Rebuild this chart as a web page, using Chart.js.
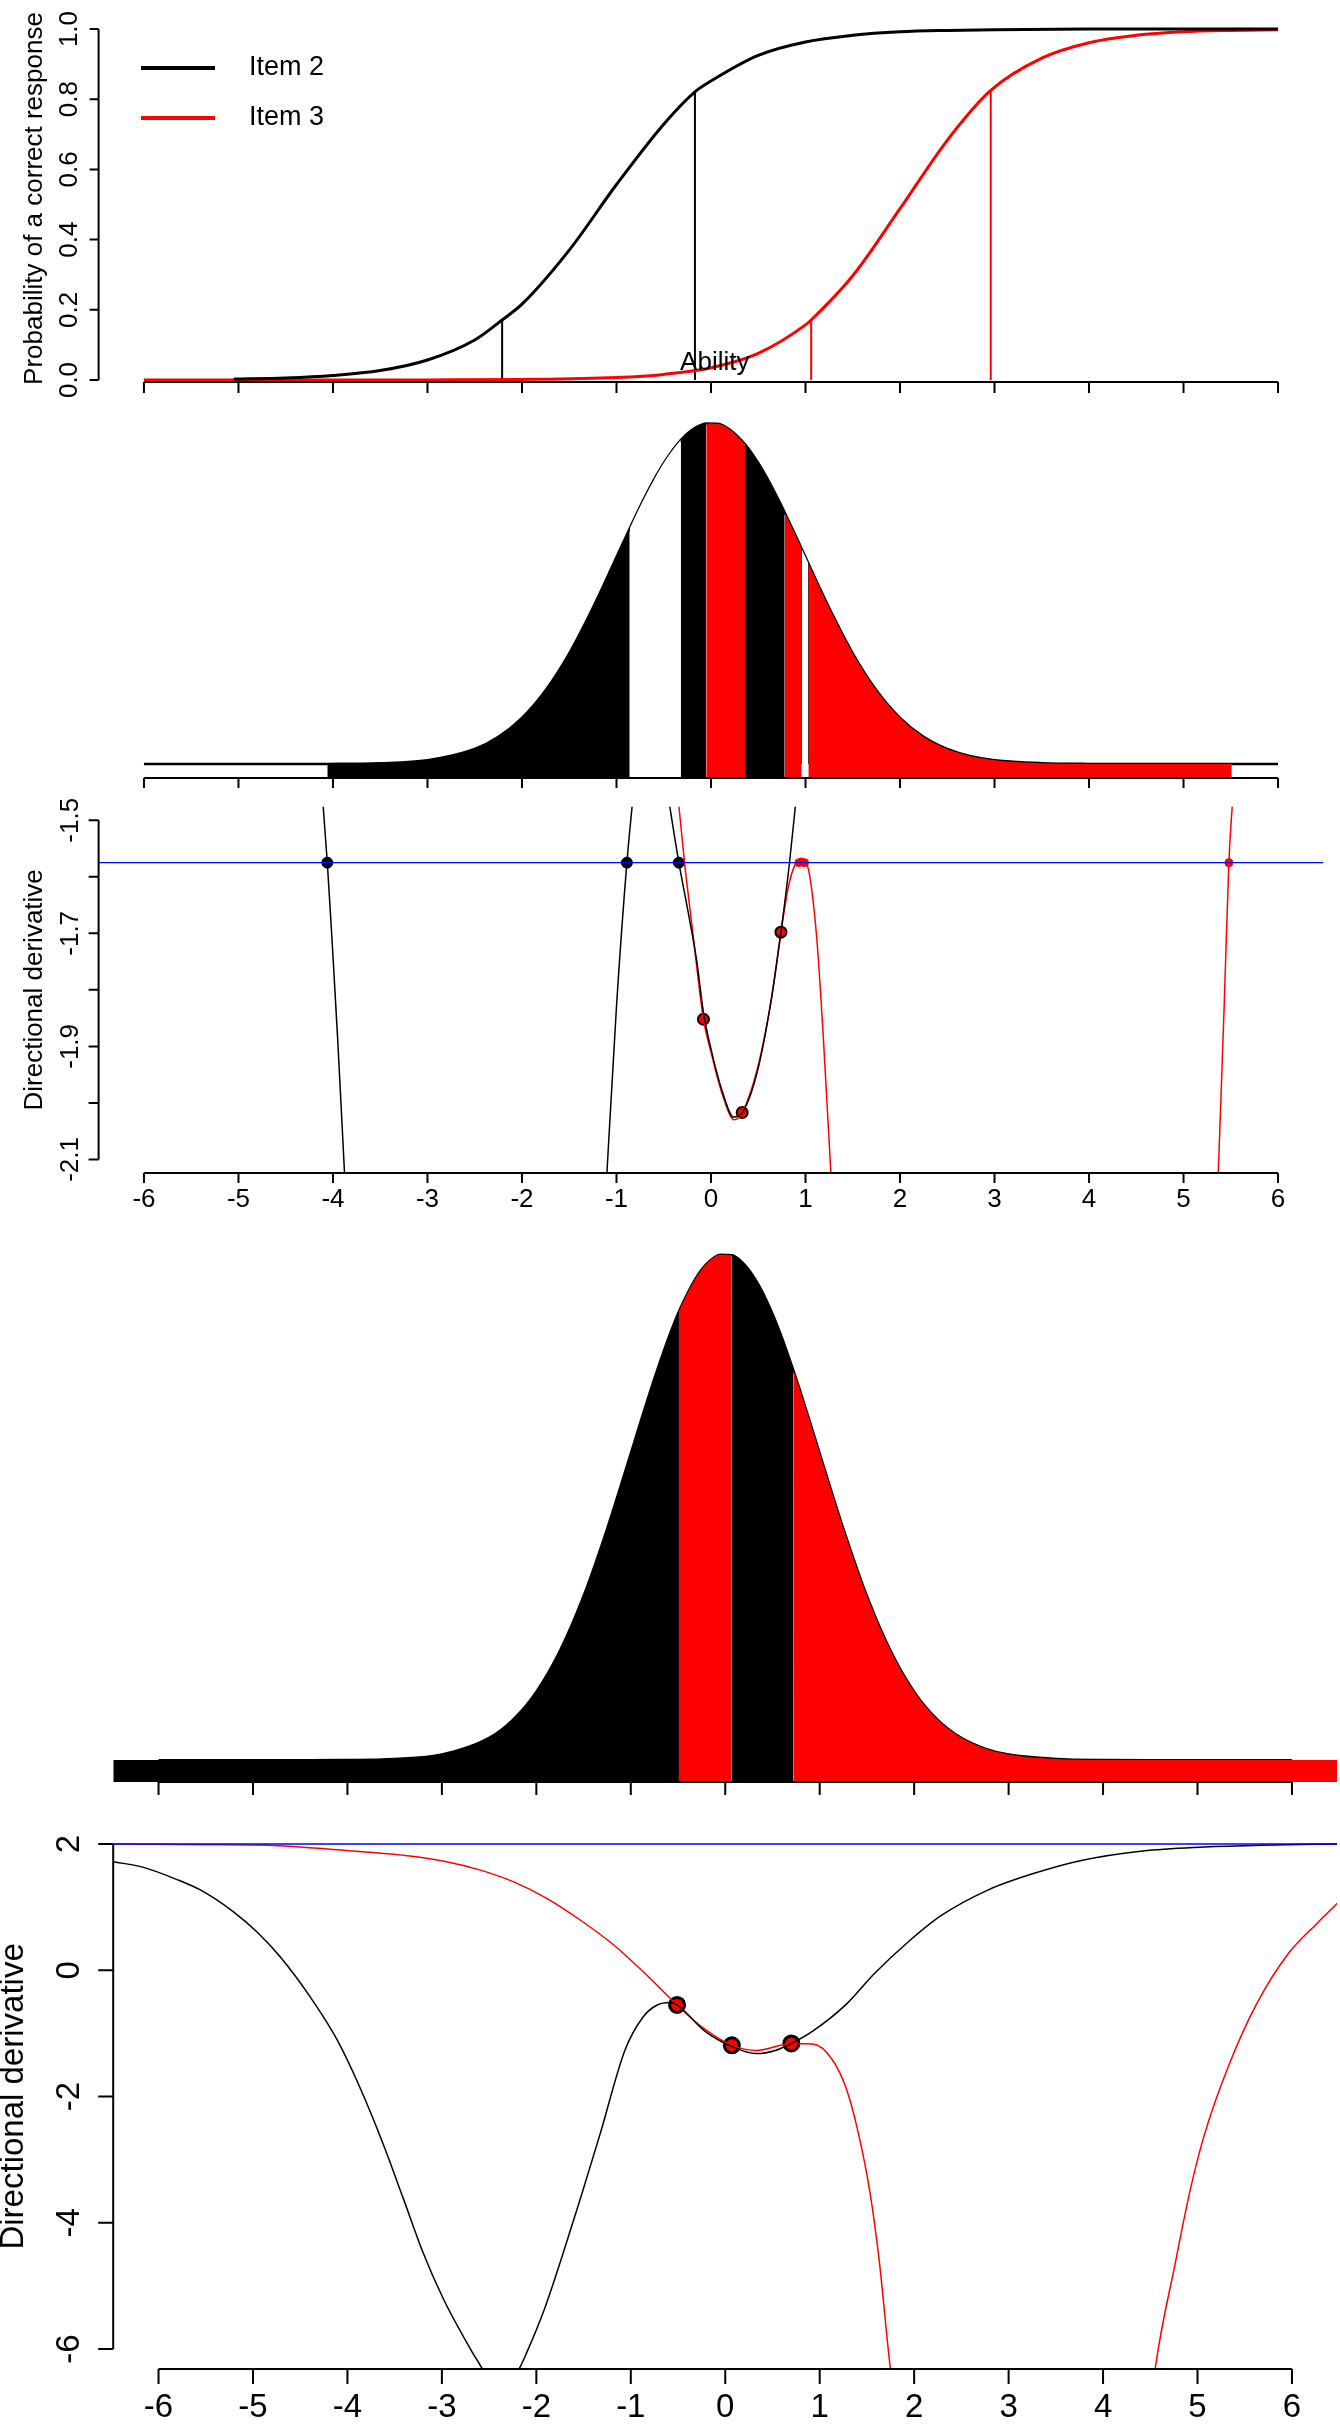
<!DOCTYPE html>
<html>
<head>
<meta charset="utf-8">
<title>Directional derivative</title>
<script src="https://cdn.jsdelivr.net/npm/chart.js@4.4.1/dist/chart.umd.min.js"></script>
<style>
  html, body { margin: 0; padding: 0; background: #fff; }
  #wrap { position: relative; width: 1340px; height: 2424px; overflow: hidden; }
  canvas { position: absolute; left: 0; }
</style>
</head>
<body>
<div id="wrap">
  <canvas id="icc" width="1340" height="400" style="top:0px"></canvas>
  <canvas id="dens1" width="1340" height="395" style="top:400px"></canvas>
  <canvas id="deriv1" width="1340" height="425" style="top:795px"></canvas>
  <canvas id="dens2" width="1340" height="580" style="top:1220px"></canvas>
  <canvas id="deriv2" width="1340" height="624" style="top:1800px"></canvas>
</div>
<script>
const FONT = '"Liberation Sans", Arial, Helvetica, sans-serif';
const CLEAR = 'rgba(0,0,0,0)';

// ability axis, shared by all panels
const abilityTicks = [-6, -5, -4, -3, -2, -1, 0, 1, 2, 3, 4, 5, 6];
const abilityTickLabels = ['-6', '-5', '-4', '-3', '-2', '-1', '0', '1', '2', '3', '4', '5', '6'];

// panel 1: item characteristic curves
const itemNames = ['Item 2', 'Item 3'];
const probTicks = [0, 0.2, 0.4, 0.6, 0.8, 1.0];
const probTickLabels = ['0.0', '0.2', '0.4', '0.6', '0.8', '1.0'];
const item2Ability = [-5.05, -4.5, -4, -3.5, -3, -2.5, -2.21, -2, -1.5, -1, -0.5, -0.17, 0, 0.5, 1, 1.5, 2, 2.5, 3, 4, 5, 6];
const item2Prob = [0.003, 0.006, 0.013, 0.027, 0.057, 0.114, 0.171, 0.216, 0.370, 0.557, 0.729, 0.821, 0.852, 0.925, 0.963, 0.982, 0.992, 0.996, 0.998, 1.0, 1.0, 1.0];
const item3Ability = [-6, -5, -4, -3, -2, -1, -0.5, 0, 0.5, 1, 1.06, 1.5, 2, 2.5, 2.96, 3.5, 4, 4.5, 5, 5.5, 6];
const item3Prob = [0, 0, 0.0001, 0.0003, 0.0014, 0.007, 0.016, 0.035, 0.076, 0.157, 0.171, 0.297, 0.488, 0.683, 0.825, 0.917, 0.961, 0.982, 0.992, 0.996, 0.998];
const item2DropAt = [-2.21, -0.17];
const item2DropProb = [0.171, 0.821];
const item3DropAt = [1.06, 2.96];
const item3DropProb = [0.171, 0.825];

// panels 2 and 4: ability density, coloured in bands
const abilityGrid = [-6.48, -6, -5.5, -5, -4.5, -4.06, -3.5, -3, -2.5, -2.25, -2, -1.75, -1.5, -1.25, -1, -0.86, -0.75, -0.6, -0.49, -0.32, -0.2, -0.05, 0.07, 0.2, 0.36, 0.5, 0.6, 0.72, 0.78, 0.9, 0.96, 1.03, 1.15, 1.25, 1.5, 1.75, 2, 2.25, 2.5, 2.75, 3, 3.5, 4, 4.5, 5, 5.51, 6, 6.48];
const abilityDensity = [0, 0, 0, 0, 0.0000, 0.0001, 0.0009, 0.0044, 0.0175, 0.0317, 0.0540, 0.0863, 0.1295, 0.1827, 0.2420, 0.2756, 0.3011, 0.3332, 0.3538, 0.3790, 0.3910, 0.3984, 0.3980, 0.3910, 0.3739, 0.3521, 0.3332, 0.3078, 0.2943, 0.2661, 0.2516, 0.2347, 0.2059, 0.1827, 0.1295, 0.0863, 0.0540, 0.0317, 0.0175, 0.0091, 0.0044, 0.0009, 0.0001, 0.0000, 0, 0, 0, 0];
const bandEdgesTop = [-4.06, -0.86, -0.32, -0.05, 0.36, 0.78, 0.96, 1.03, 5.51];
const bandColorsTop = ['#000000', '#ffffff', '#000000', '#ff0000', '#000000', '#ff0000', '#ffffff', '#ff0000'];
const gapEdgeAt = [0.96, 1.03];
const gapEdgeTop = [0.2516, 0.2347];
const bandEdgesLow = [-6.48, -0.49, 0.07, 0.72, 6.48];
const bandColorsLow = ['#000000', '#ff0000', '#000000', '#ff0000'];

// panel 3: directional derivative, zoomed
const dd1Ticks = [-2.1, -2.0, -1.9, -1.8, -1.7, -1.6, -1.5];
const dd1TickLabels = ['-2.1', '', '-1.9', '', '-1.7', '', '-1.5'];
const dd1Level = -1.575;
const dd1Item2X = [-4.12, -4.06, -4.01, -3.95, -3.87, -2.5, -1.12, -1.0, -0.89, -0.82, -0.65, -0.47, -0.34, -0.25, -0.15, -0.08, 0.0, 0.12, 0.24, 0.34, 0.49, 0.64, 0.74, 0.83, 0.92];
const dd1Item2Y = [-1.44, -1.575, -1.711, -1.888, -2.15, null, -2.18, -1.829, -1.575, -1.45, null, -1.44, -1.575, -1.655, -1.75, -1.84, -1.905, -1.98, -2.025, -2.015, -1.945, -1.815, -1.698, -1.576, -1.43];
const dd1Item3X = [-0.36, -0.28, -0.2, -0.08, 0.0, 0.12, 0.245, 0.33, 0.49, 0.64, 0.74, 0.82, 0.89, 0.95, 0.99, 1.04, 1.12, 1.19, 1.28, 3.3, 5.36, 5.43, 5.48, 5.53];
const dd1Item3Y = [-1.44, -1.575, -1.688, -1.852, -1.91, -1.985, -2.03, -2.017, -1.94, -1.815, -1.698, -1.617, -1.578, -1.567, -1.57, -1.594, -1.711, -1.888, -2.16, null, -2.16, -1.829, -1.575, -1.44];
const dd1RootsBlack = [-4.06, -0.89, -0.34];
const dd1DotsX = [-0.08, 0.33, 0.74];
const dd1DotsY = [-1.852, -2.017, -1.698];
const dd1RootsRed = [0.93, 0.99, 5.48];

// panel 5: directional derivative, full range
const dd2Ticks = [-6, -4, -2, 0, 2];
const dd2TickLabels = ['-6', '-4', '-2', '0', '2'];
const dd2Level = 2;
const dd2Item2X = [-6.48, -6.16, -5.81, -5.53, -5.21, -4.96, -4.71, -4.40, -4.11, -3.87, -3.62, -3.41, -3.20, -2.98, -2.77, -2.63, -2.40, -2.19, -2.10, -1.91, -1.72, -1.53, -1.33, -1.06, -0.87, -0.72, -0.58, -0.51, -0.22, 0.07, 0.33, 0.53, 0.70, 0.93, 1.28, 1.58, 1.93, 2.28, 2.78, 3.28, 3.77, 4.42, 5.02, 5.67, 6.48];
const dd2Item2Y = [1.72, 1.63, 1.44, 1.25, 0.93, 0.61, 0.21, -0.41, -1.10, -1.85, -2.76, -3.61, -4.47, -5.22, -5.81, -6.17, -6.62, -6.33, -6.05, -5.35, -4.50, -3.60, -2.62, -1.26, -0.74, -0.55, -0.51, -0.55, -0.96, -1.21, -1.32, -1.27, -1.16, -0.96, -0.54, -0.05, 0.44, 0.86, 1.27, 1.54, 1.74, 1.89, 1.95, 1.98, 2.0];
const dd2Item3X = [-6.48, -5.5, -4.85, -4.04, -3.34, -2.95, -2.60, -2.24, -1.89, -1.54, -1.18, -0.83, -0.51, -0.22, 0.07, 0.33, 0.70, 0.93, 1.13, 1.28, 1.40, 1.53, 1.63, 1.75, 1.82, 3.2, 4.50, 4.55, 4.77, 4.92, 5.07, 5.32, 5.62, 5.97, 6.27, 6.48];
const dd2Item3Y = [2.0, 1.99, 1.98, 1.90, 1.81, 1.72, 1.59, 1.40, 1.14, 0.80, 0.40, -0.08, -0.55, -0.93, -1.19, -1.27, -1.16, -1.17, -1.41, -1.87, -2.52, -3.50, -4.60, -6.33, -7.0, null, -7.0, -6.33, -4.60, -3.50, -2.62, -1.55, -0.55, 0.28, 0.75, 1.06];
const dd2DotsX = [-0.51, 0.07, 0.70];
const dd2DotsY = [-0.55, -1.19, -1.16];

// R-style axes for each canvas
const axisSpec = {
  icc:    { font: 26, xTicks: abilityTicks, xTickLen: 11, yTicks: probTicks, yLabels: probTickLabels, yTickLen: 9, yLabelGap: 29, yTitle: 'Probability of a correct response', yTitleGap: 64 },
  dens1:  { font: 26, xTicks: abilityTicks, xTickLen: 10 },
  deriv1: { font: 26, xTicks: abilityTicks, xLabels: abilityTickLabels, xTickLen: 10, xLabelGap: 27, yTicks: dd1Ticks, yLabels: dd1TickLabels, yTickLen: 10, yLabelGap: 28, yTitle: 'Directional derivative', yTitleGap: 64 },
  dens2:  { font: 26, xTicks: abilityTicks, xTickLen: 13 },
  deriv2: { font: 33, xTicks: abilityTicks, xLabels: abilityTickLabels, xTickLen: 15, xLabelGap: 39, yTicks: dd2Ticks, yLabels: dd2TickLabels, yTickLen: 15, yLabelGap: 43, yTitle: 'Directional derivative', yTitleGap: 99 }
};

const rAxes = {
  id: 'rAxes',
  afterDatasetsDraw(chart) {
    const spec = axisSpec[chart.canvas.id];
    if (!spec) return;
    const { ctx, chartArea: area, scales } = chart;
    ctx.save();
    ctx.strokeStyle = '#000';
    ctx.fillStyle = '#000';
    ctx.lineWidth = 2;
    ctx.font = spec.font + 'px ' + FONT;
    ctx.textAlign = 'center';
    ctx.textBaseline = 'middle';

    const px = spec.xTicks.map(v => scales.x.getPixelForValue(v));
    const yb = area.bottom;
    ctx.beginPath();
    ctx.moveTo(px[0], yb);
    ctx.lineTo(px[px.length - 1], yb);
    px.forEach(p => { ctx.moveTo(p, yb); ctx.lineTo(p, yb + spec.xTickLen); });
    ctx.stroke();
    if (spec.xLabels) {
      px.forEach((p, i) => ctx.fillText(spec.xLabels[i], p, yb + spec.xLabelGap));
    }

    if (spec.yTicks) {
      const py = spec.yTicks.map(v => scales.y.getPixelForValue(v));
      const xl = area.left;
      ctx.beginPath();
      ctx.moveTo(xl, py[0]);
      ctx.lineTo(xl, py[py.length - 1]);
      py.forEach(p => { ctx.moveTo(xl, p); ctx.lineTo(xl - spec.yTickLen, p); });
      ctx.stroke();
      py.forEach((p, i) => {
        if (!spec.yLabels[i]) return;
        ctx.save();
        ctx.translate(xl - spec.yLabelGap, p);
        ctx.rotate(-Math.PI / 2);
        ctx.fillText(spec.yLabels[i], 0, 0);
        ctx.restore();
      });
      ctx.save();
      ctx.translate(xl - spec.yTitleGap, (area.top + area.bottom) / 2);
      ctx.rotate(-Math.PI / 2);
      ctx.fillText(spec.yTitle, 0, 0);
      ctx.restore();
    }
    ctx.restore();
  }
};

// legend and the stray "Ability" label of the top panel
const rNotes = {
  id: 'rNotes',
  afterDraw(chart) {
    if (chart.canvas.id !== 'icc') return;
    const { ctx, scales } = chart;
    const colors = ['#000000', '#ff0000'];
    ctx.save();
    ctx.font = '27px ' + FONT;
    ctx.textBaseline = 'middle';
    ctx.textAlign = 'left';
    itemNames.forEach((name, i) => {
      const y = 68 + i * 50;
      ctx.strokeStyle = colors[i];
      ctx.lineWidth = 4;
      ctx.beginPath();
      ctx.moveTo(141, y);
      ctx.lineTo(215, y);
      ctx.stroke();
      ctx.fillStyle = '#000';
      ctx.fillText(name, 249, y);
    });
    ctx.font = '26px ' + FONT;
    ctx.textAlign = 'center';
    ctx.fillText('Ability', scales.x.getPixelForValue(0.04), scales.y.getPixelForValue(0.048));
    ctx.restore();
  }
};

Chart.register(rAxes, rNotes);

function pts(xs, ys) {
  return xs.map((x, i) => ({ x: x, y: ys[i] }));
}

function curve(xs, ys, color, width) {
  return {
    data: pts(xs, ys), borderColor: color, borderWidth: width, backgroundColor: color,
    pointRadius: 0, fill: false, cubicInterpolationMode: 'monotone', spanGaps: false
  };
}

function drops(xs, tops, color, width) {
  const data = [];
  xs.forEach((x, i) => {
    data.push({ x: x, y: 0 }, { x: x, y: tops[i] }, { x: x, y: null });
  });
  return { data: data, borderColor: color, borderWidth: width, pointRadius: 0, fill: false, spanGaps: false };
}

function dots(xs, ys, fill, edge, r, bw) {
  return {
    data: pts(xs, ys), showLine: false, pointRadius: r, pointHoverRadius: r,
    pointBackgroundColor: fill, pointBorderColor: edge, pointBorderWidth: bw
  };
}

function bandColor(x, edges, colors) {
  for (let i = 0; i < colors.length; i++) {
    if (x >= edges[i] && x <= edges[i + 1]) return colors[i];
  }
  return CLEAR;
}

// filled bands under the density (no outline)
function densityBands(edges, colors, yMin) {
  return {
    data: pts(abilityGrid, abilityDensity),
    borderWidth: 0, borderColor: CLEAR, backgroundColor: CLEAR,
    pointRadius: 0, cubicInterpolationMode: 'monotone',
    fill: { value: yMin },
    segment: {
      backgroundColor: c => bandColor((abilityGrid[c.p0DataIndex] + abilityGrid[c.p1DataIndex]) / 2, edges, colors)
    }
  };
}

// density outline, drawn from -6 to 6 only
function densityLine(width) {
  return {
    data: pts(abilityGrid, abilityDensity),
    borderColor: '#000000', borderWidth: width, fill: false,
    pointRadius: 0, cubicInterpolationMode: 'monotone',
    segment: {
      borderColor: c => (abilityGrid[c.p0DataIndex] < -6 || abilityGrid[c.p1DataIndex] > 6) ? CLEAR : '#000000'
    }
  };
}

function options(padding, yMin, yMax) {
  return {
    responsive: false,
    animation: false,
    events: [],
    layout: { padding: padding, autoPadding: false },
    scales: {
      x: { type: 'linear', min: -6.48, max: 6.48, display: false },
      y: { type: 'linear', min: yMin, max: yMax, display: false }
    },
    plugins: { legend: { display: false }, tooltip: { enabled: false } }
  };
}

// panel 1
new Chart(document.getElementById('icc'), {
  type: 'line',
  data: {
    datasets: [
      curve(item2Ability, item2Prob, '#000000', 3),
      curve(item3Ability, item3Prob, '#ff0000', 3),
      drops(item2DropAt, item2DropProb, '#000000', 2),
      drops(item3DropAt, item3DropProb, '#ff0000', 2)
    ]
  },
  options: options({ left: 98.6, right: 16.6, top: 15, bottom: 18 }, -0.0057, 1.04)
});

// panel 2
const dens1Min = -0.0164;
new Chart(document.getElementById('dens1'), {
  type: 'line',
  data: {
    datasets: [
      densityBands(bandEdgesTop, bandColorsTop, dens1Min),
      drops(gapEdgeAt, gapEdgeTop, '#000000', 1.2),
      densityLine(2.5)
    ]
  },
  options: options({ left: 98.6, right: 16.6, top: 9, bottom: 17 }, dens1Min, 0.4153)
});

// panel 3
new Chart(document.getElementById('deriv1'), {
  type: 'line',
  data: {
    datasets: [
      curve([-6.48, 6.48], [dd1Level, dd1Level], '#0000ff', 1.4),
      curve(dd1Item2X, dd1Item2Y, '#000000', 1.5),
      curve(dd1Item3X, dd1Item3Y, '#ff0000', 1.5),
      dots(dd1RootsBlack, dd1RootsBlack.map(() => dd1Level), '#000000', '#000000', 5.5, 1),
      dots(dd1DotsX, dd1DotsY, '#ff0000', '#000000', 5.5, 2),
      dots(dd1RootsRed, dd1RootsRed.map(() => dd1Level), '#ff0000', '#ff0000', 4, 1)
    ]
  },
  options: options({ left: 98.6, right: 16.6, top: 11.7, bottom: 47 }, -2.124, -1.476)
});

// panel 4
const dens2Min = -0.0173;
new Chart(document.getElementById('dens2'), {
  type: 'line',
  data: { datasets: [densityBands(bandEdgesLow, bandColorsLow, dens2Min), densityLine(2.3)] },
  options: options({ left: 113.2, right: 2.7, top: 14, bottom: 18 }, dens2Min, 0.4147)
});

// panel 5
new Chart(document.getElementById('deriv2'), {
  type: 'line',
  data: {
    datasets: [
      curve([-6.48, 6.48], [dd2Level, dd2Level], '#0000ff', 1.5),
      curve(dd2Item2X, dd2Item2Y, '#000000', 1.5),
      curve(dd2Item3X, dd2Item3Y, '#ff0000', 1.5),
      dots(dd2DotsX, dd2DotsY, '#ff0000', '#000000', 7.5, 3)
    ]
  },
  options: options({ left: 113.2, right: 2.7, top: 23.8, bottom: 55 }, -6.317, 2.32)
});
</script>
</body>
</html>
